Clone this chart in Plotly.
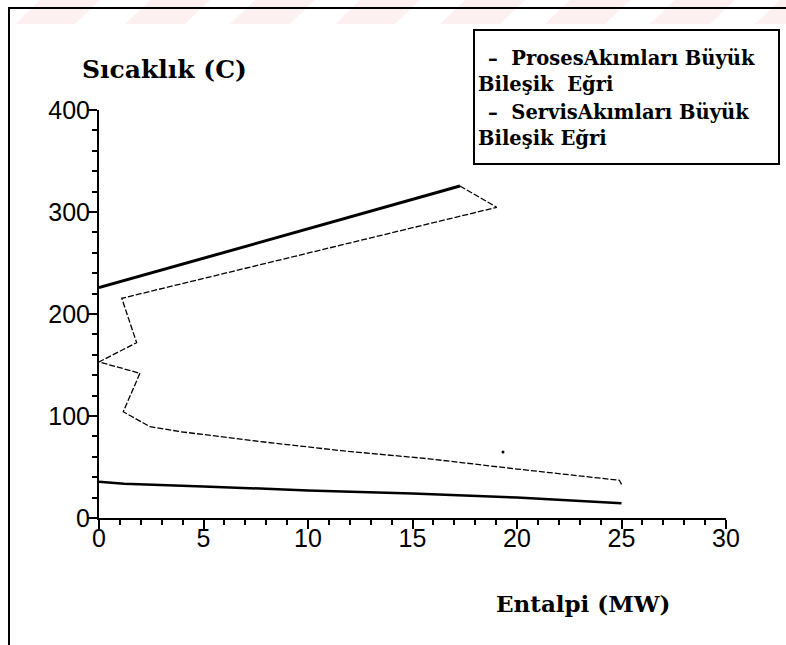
import plotly.graph_objects as go

# Process grand composite curve (enthalpy MW, temperature C)
proses_H = [17.27, 19.03, 1.09, 1.80, 0.0, 1.96, 1.16, 2.44, 3.9, 7.9, 11.6, 15.8, 20.0, 22.1, 24.1, 24.9, 25.0]
proses_T = [325.5, 304.6, 215.4, 171.9, 153.0, 141.9, 104.2, 89.5, 84.6, 74.5, 66.0, 58.0, 48.0, 43.5, 38.7, 37.0, 33.0]

# Utility (service) grand composite curve: hot part and cold part
servis_sicak_H = [0.0, 17.27]
servis_sicak_T = [225.8, 325.5]
servis_soguk_H = [0.0, 1.2, 5.0, 10.0, 15.0, 20.0, 25.0]
servis_soguk_T = [35.5, 33.5, 31.0, 27.0, 24.0, 20.0, 14.5]

# single stray point
nokta_H = [19.33]
nokta_T = [64.7]

x_ticks = [0, 5, 10, 15, 20, 25, 30]
y_ticks = [0, 100, 200, 300, 400]

legend_lines = [
    "\u2013  ProsesAkımları Büyük",
    "Bileşik  Eğri",
    "\u2013  ServisAkımları Büyük",
    "Bileşik Eğri",
]

W, H = 786, 645
L, R, T, B = 99, 60, 110, 127
PW, PH = W - L - R, H - T - B


def px(x):
    return (x - L) / PW


def py(y):
    return (H - B - y) / PH


fig = go.Figure()
fig.add_trace(go.Scatter(x=proses_H, y=proses_T, mode="lines",
                         line=dict(color="black", width=1.3, dash="6px,2px"),
                         showlegend=False))
fig.add_trace(go.Scatter(x=servis_sicak_H, y=servis_sicak_T, mode="lines",
                         line=dict(color="black", width=3), showlegend=False))
fig.add_trace(go.Scatter(x=servis_soguk_H, y=servis_soguk_T, mode="lines",
                         line=dict(color="black", width=2.5), showlegend=False))
fig.add_trace(go.Scatter(x=nokta_H, y=nokta_T, mode="markers",
                         marker=dict(color="black", size=3), showlegend=False))

tick_font = dict(family="Liberation Sans, Arial, sans-serif", size=25, color="black")
serif = "DejaVu Serif, Liberation Serif, serif"

fig.update_xaxes(range=[0, 30], tickvals=x_ticks, showgrid=False, zeroline=False,
                 showline=True, linecolor="black", linewidth=2,
                 ticks="outside", ticklen=9, tickwidth=2, tickcolor="black",
                 minor=dict(dtick=1, ticks="outside", ticklen=5, tickwidth=2, tickcolor="black"),
                 tickfont=tick_font, ticklabelstandoff=-12)
fig.update_yaxes(range=[0, 400], tickvals=y_ticks, showgrid=False, zeroline=False,
                 showline=True, linecolor="black", linewidth=2,
                 ticks="outside", ticklen=9, tickwidth=2, tickcolor="black",
                 minor=dict(dtick=20, ticks="outside", ticklen=5, tickwidth=2, tickcolor="black"),
                 tickfont=tick_font, ticklabelstandoff=-7)

shapes = []
# faint diagonal stripes across the top edge
for x0 in [40, 150, 255, 360, 465, 570, 675, 780]:
    path = (f"M {px(x0)},{py(0)} L {px(x0 + 60)},{py(0)} "
            f"L {px(x0 + 35)},{py(24)} L {px(x0 - 25)},{py(24)} Z")
    shapes.append(dict(type="path", xref="paper", yref="paper", path=path,
                       fillcolor="rgba(245,170,180,0.18)", line=dict(width=0), layer="below"))
# outer frame (top and left edges)
shapes.append(dict(type="line", xref="paper", yref="paper",
                   x0=px(8), y0=py(8), x1=px(786), y1=py(8), line=dict(color="black", width=2)))
shapes.append(dict(type="line", xref="paper", yref="paper",
                   x0=px(9), y0=py(7), x1=px(9), y1=py(645), line=dict(color="black", width=2)))
# legend box
shapes.append(dict(type="rect", xref="paper", yref="paper",
                   x0=px(474), y0=py(30), x1=px(779), y1=py(164),
                   line=dict(color="black", width=2), fillcolor="white"))

annotations = [
    dict(text="<b>Sıcaklık (C)</b>", x=px(164), y=py(70), xref="paper", yref="paper",
         showarrow=False, xanchor="center", yanchor="middle",
         font=dict(family=serif, size=25, color="black")),
    dict(text="<b>Entalpi (MW)</b>", x=px(583), y=py(603), xref="paper", yref="paper",
         showarrow=False, xanchor="center", yanchor="middle",
         font=dict(family=serif, size=23, color="black")),
]
legend_pos = [(486, 58), (476, 84), (486, 112), (476, 138)]
for txt, (lx, ly) in zip(legend_lines, legend_pos):
    annotations.append(dict(text=f"<b>{txt}</b>", x=px(lx), y=py(ly), xref="paper", yref="paper",
                            showarrow=False, xanchor="left", yanchor="middle",
                            font=dict(family=serif, size=19.5, color="black")))

fig.update_layout(width=W, height=H, autosize=False,
                  margin=dict(l=L, r=R, t=T, b=B),
                  paper_bgcolor="white", plot_bgcolor="white",
                  shapes=shapes, annotations=annotations)

fig.write_html("out.html")
